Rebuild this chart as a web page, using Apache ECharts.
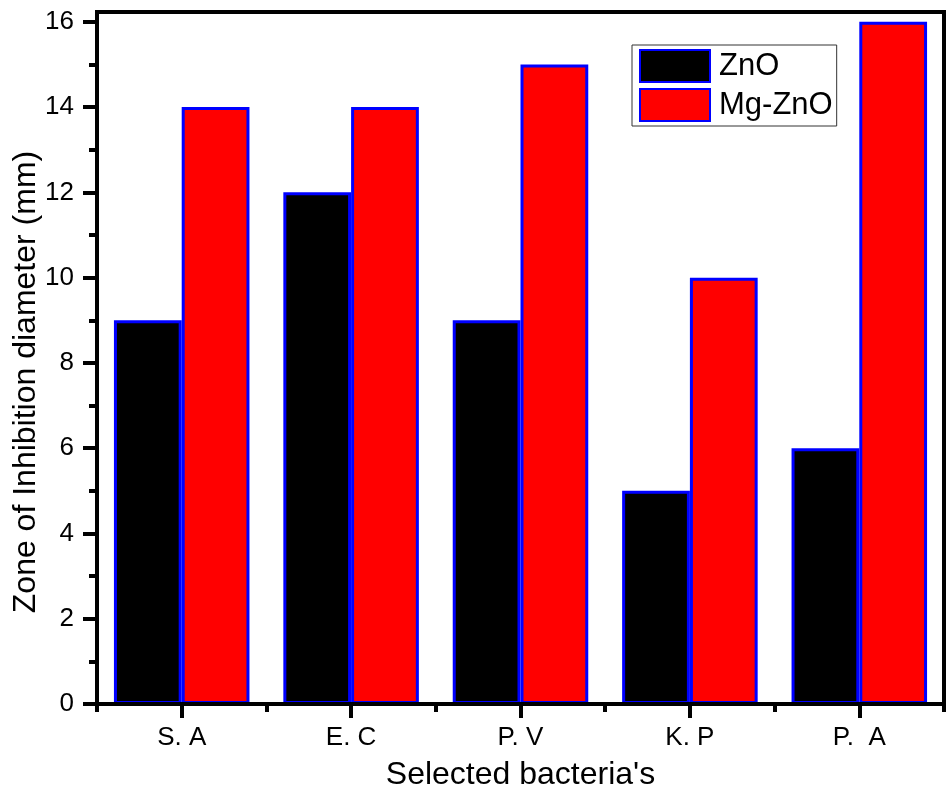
<!DOCTYPE html>
<html>
<head>
<meta charset="utf-8">
<script src="https://cdn.jsdelivr.net/npm/echarts@6/dist/echarts.min.js"></script>
<style>
  html, body { margin: 0; padding: 0; background: #fff; }
  #chart { width: 948px; height: 797px; }
</style>
</head>
<body>
<div id="chart"></div>
<script>
// bacteria on the x axis
const categories = [ 'S. A', 'E. C', 'P. V', 'K. P', 'P.  A' ];
// zone of inhibition, mm
const znoValues = [ 9, 12, 9, 5, 6 ];
const mgZnoValues = [ 14, 14, 15, 10, 16 ];
// y ticks
const majorTicks = [ 0, 2, 4, 6, 8, 10, 12, 14, 16 ];
const minorTicks = [ 1, 3, 5, 7, 9, 11, 13, 15 ];

const font = 'Liberation Sans, Arial, sans-serif';
const yMax = 16.23;

const chart = echarts.init( document.getElementById( 'chart' ) );

const barStyle = ( color ) => ( {
    color: color,
    borderColor: '#0000ff',
    borderWidth: 3
} );

chart.setOption( {
    backgroundColor: '#fff',
    animation: false,
    grid: {
        left: 97, top: 12, right: 4, bottom: 93,
        show: true, borderColor: '#000', borderWidth: 4,
        containLabel: false, outerBoundsMode: 'none'
    },
    legend: {
        orient: 'vertical',
        left: 632, top: 45,
        padding: [ 4, 4, 4, 7 ],
        itemWidth: 70, itemHeight: 32, itemGap: 5,
        icon: 'rect',
        borderColor: '#333', borderWidth: 1,
        backgroundColor: '#fff',
        textStyle: { fontFamily: font, fontSize: 31, color: '#000', padding: [ 0, 0, 0, 4 ] },
        data: [ 'ZnO', 'Mg-ZnO' ]
    },
    xAxis: [ {
        type: 'category',
        position: 'bottom',
        data: categories,
        name: "Selected bacteria's",
        nameLocation: 'middle',
        nameGap: 55,
        nameMoveOverlap: false,
        nameTextStyle: { fontFamily: font, fontSize: 32, color: '#000' },
        axisLine: { lineStyle: { color: '#000', width: 4 } },
        axisTick: { show: true, alignWithLabel: true, length: 14, lineStyle: { color: '#000', width: 4 } },
        axisLabel: { fontFamily: font, fontSize: 26, color: '#000', margin: 21 },
        splitLine: { show: false },
        z: 10
    }, {
        // minor ticks between categories
        type: 'category',
        position: 'bottom',
        data: categories,
        axisLine: { show: false },
        axisTick: { show: true, alignWithLabel: false, length: 8, lineStyle: { color: '#000', width: 4 } },
        axisLabel: { show: false },
        splitLine: { show: false },
        z: 10
    } ],
    yAxis: [ {
        type: 'value',
        position: 'left',
        min: 0, max: yMax,
        name: 'Zone of Inhibition diameter (mm)',
        nameLocation: 'middle',
        nameGap: 55,
        nameMoveOverlap: false,
        nameTextStyle: { fontFamily: font, fontSize: 32, color: '#000', padding: [ 0, 48, 0, 0 ] },
        axisLine: { show: true, lineStyle: { color: '#000', width: 4 } },
        axisTick: { show: true, length: 14, customValues: majorTicks, lineStyle: { color: '#000', width: 4 } },
        axisLabel: { fontFamily: font, fontSize: 26, color: '#000', margin: 23, customValues: majorTicks },
        splitLine: { show: false }
    }, {
        // odd minor ticks
        type: 'value',
        position: 'left',
        min: 0, max: yMax,
        axisLine: { show: false },
        axisTick: { show: true, length: 8, customValues: minorTicks, lineStyle: { color: '#000', width: 4 } },
        axisLabel: { show: false },
        splitLine: { show: false }
    } ],
    series: [ {
        name: 'ZnO',
        type: 'bar',
        data: znoValues,
        barGap: '0%',
        barCategoryGap: '20%',
        itemStyle: barStyle( '#000000' )
    }, {
        name: 'Mg-ZnO',
        type: 'bar',
        data: mgZnoValues,
        barGap: '0%',
        barCategoryGap: '20%',
        itemStyle: barStyle( '#ff0000' )
    } ]
} );
</script>
</body>
</html>
